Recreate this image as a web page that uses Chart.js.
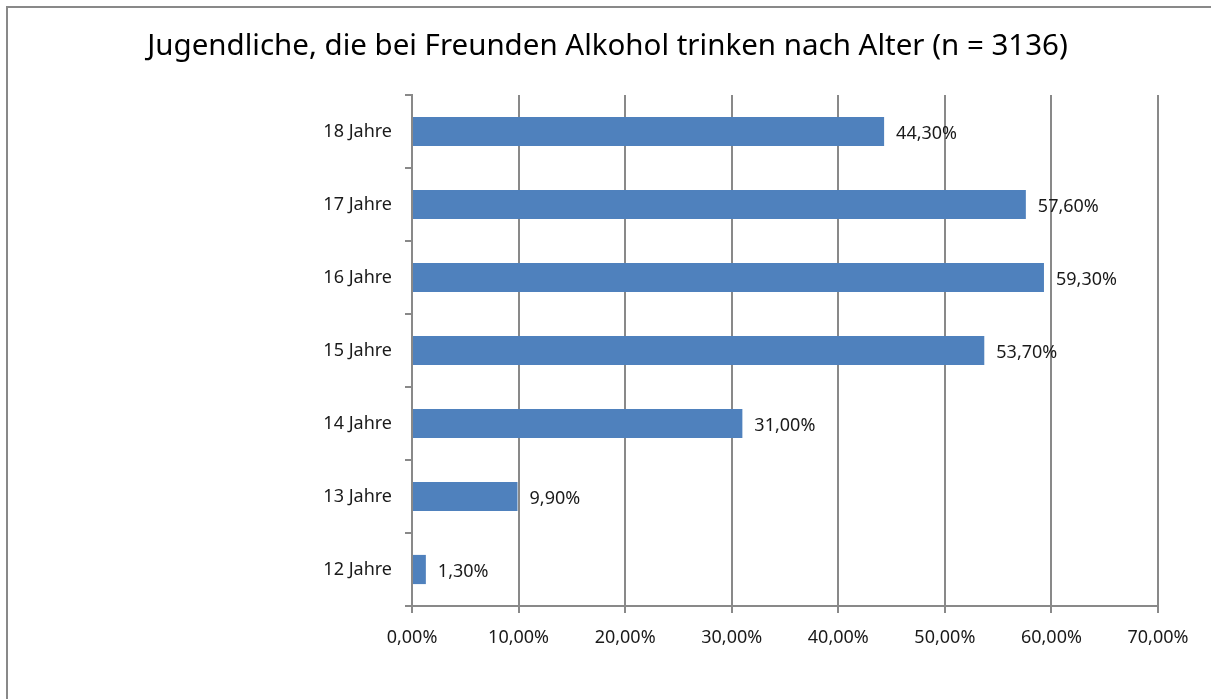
<!DOCTYPE html>
<html>
<head>
<meta charset="utf-8">
<script src="https://cdn.jsdelivr.net/npm/chart.js@4"></script>
<style>
  body { margin: 0; background: #fff; overflow: hidden; }
  #wrap { position: relative; width: 1211px; height: 699px; }
  #frame {
    position: absolute; left: 6px; top: 6px; width: 1300px; height: 800px;
    border: 2px solid #898989; box-sizing: border-box;
  }
  #chart { position: absolute; left: 0; top: 0; }
</style>
</head>
<body>
<div id="wrap">
  <div id="frame"></div>
  <canvas id="chart" width="1211" height="699"></canvas>
</div>
<script>
// data
const ages = ["12 Jahre", "13 Jahre", "14 Jahre", "15 Jahre", "16 Jahre", "17 Jahre", "18 Jahre"];
const shares = [1.3, 9.9, 31.0, 53.7, 59.3, 57.6, 44.3];
const xTicks = [0, 10, 20, 30, 40, 50, 60, 70];

const chartTitle = "Jugendliche, die bei Freunden Alkohol trinken nach Alter (n = 3136)";
const fontFamily = "'Noto Sans', 'Open Sans', sans-serif";
const gridColor = "#898989";

const fmtPct = (v) => v.toFixed(2).replace(".", ",") + "%";

// value next to each bar + title centred on the whole canvas
const valueLabels = {
  id: "valueLabels",
  afterDatasetsDraw(chart) {
    const ctx = chart.ctx;
    const meta = chart.getDatasetMeta(0);
    ctx.save();
    ctx.font = "18px " + fontFamily;
    ctx.fillStyle = "#1a1a1a";
    ctx.textAlign = "left";
    ctx.textBaseline = "middle";
    meta.data.forEach((bar, i) => {
      ctx.fillText(fmtPct(shares[i]), bar.x + 12, bar.y + 2);
    });

    ctx.font = "29.5px " + fontFamily;
    ctx.fillStyle = "#000";
    ctx.textAlign = "center";
    ctx.fillText(chartTitle, chart.width / 2 + 2, 47);
    ctx.restore();
  },
};

new Chart(document.getElementById("chart"), {
  type: "bar",
  data: {
    labels: ages,
    datasets: [
      {
        data: shares,
        backgroundColor: "#4F81BD",
        borderWidth: 0,
        categoryPercentage: 0.4,
        barPercentage: 1,
      },
    ],
  },
  options: {
    indexAxis: "y",
    responsive: false,
    animation: false,
    layout: { padding: { left: 0, right: 53, top: 95, bottom: 0 } },
    scales: {
      x: {
        min: 0,
        max: 70,
        afterBuildTicks: (scale) => {
          scale.ticks = xTicks.map((v) => ({ value: v }));
        },
        afterFit: (scale) => {
          scale.height = 93;
        },
        grid: {
          color: gridColor,
          lineWidth: 2,
          tickLength: 7,
          drawTicks: true,
        },
        border: { color: gridColor, width: 2 },
        ticks: {
          color: "#1a1a1a",
          padding: 14,
          font: { size: 18, family: fontFamily },
          callback: (value) => fmtPct(value),
          maxRotation: 0,
        },
      },
      y: {
        reverse: true,
        afterFit: (scale) => {
          scale.width = 412;
        },
        grid: {
          drawOnChartArea: false,
          drawTicks: true,
          tickLength: 7,
          offset: true,
          color: gridColor,
          lineWidth: 2,
        },
        border: { color: gridColor, width: 2 },
        ticks: {
          color: "#1a1a1a",
          padding: 13,
          font: { size: 18, family: fontFamily },
        },
      },
    },
    plugins: {
      legend: { display: false },
      tooltip: { enabled: false },
      title: { display: false },
    },
  },
  plugins: [valueLabels],
});
</script>
</body>
</html>
